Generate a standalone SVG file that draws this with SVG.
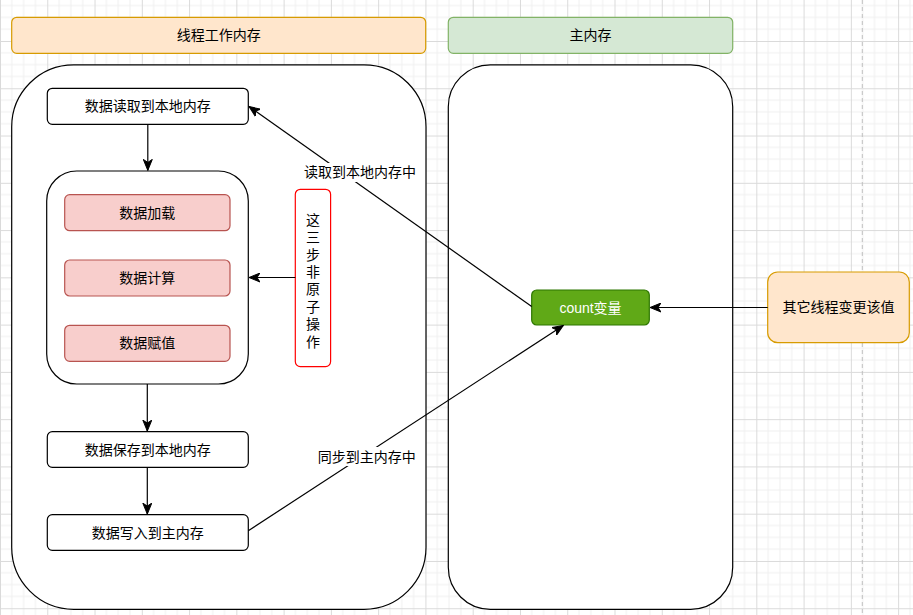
<svg xmlns="http://www.w3.org/2000/svg" width="913" height="615" viewBox="0 0 913 615">
<style>
text{font-family:"Liberation Sans","Noto Sans CJK SC",sans-serif;font-size:14px;fill:#000;text-anchor:middle;dominant-baseline:central}
.panel{fill:#fff;stroke:#000;stroke-width:1.2}
.box{fill:#fff;stroke:#000;stroke-width:1.2}
.red{fill:#f8cecc;stroke:#b85450;stroke-width:1.2}
.orange{fill:#ffe6cc;stroke:#d79b00;stroke-width:1.2}
.green{fill:#d5e8d4;stroke:#82b366;stroke-width:1.2}
.edge{fill:none;stroke:#000;stroke-width:1.2}
</style>
<defs>
<pattern id="grid" x="0" y="41" width="47.27" height="47.27" patternUnits="userSpaceOnUse">
<path d="M11.82 0V47.27M23.64 0V47.27M35.45 0V47.27M0 11.82H47.27M0 23.64H47.27M0 35.45H47.27" stroke="#f0f0f0" stroke-width="1" fill="none"/>
<path d="M0.5 0V47.27M0 0.5H47.27" stroke="#dadada" stroke-width="1" fill="none"/>
</pattern>
<marker id="arr" markerWidth="12" markerHeight="10" refX="11" refY="5" orient="auto" markerUnits="userSpaceOnUse">
<path d="M0,0.5 L11,5 L0,9.5 L3,5 Z" fill="#000" stroke="#000" stroke-width="1"/>
</marker>
</defs>
<rect width="913" height="615" fill="#fff"/>
<rect width="913" height="615" fill="url(#grid)"/>
<line x1="862.3" y1="0" x2="862.3" y2="615" stroke="#c0c0c0" stroke-width="1" stroke-dasharray="4 3"/>

<g id="header-thread">
<rect class="orange" x="11.7" y="17.3" width="414" height="36" rx="5"/>
<text x="218.7" y="35.3">线程工作内存</text>
</g>
<g id="header-main">
<rect class="green" x="448.3" y="17.3" width="284.4" height="36" rx="5"/>
<text x="590.5" y="35.3">主内存</text>
</g>
<g id="panel-thread">
<rect class="panel" x="11.7" y="64.8" width="414.3" height="544.5" rx="62"/>
</g>
<g id="panel-main">
<rect class="panel" x="448.3" y="64.8" width="284.4" height="544.5" rx="42"/>
</g>
<g id="node-read">
<rect class="box" x="47.3" y="88.3" width="201" height="36" rx="5"/>
<text x="147.8" y="106.3">数据读取到本地内存</text>
</g>
<g id="node-group">
<rect class="box" x="46.7" y="171" width="201.6" height="213" rx="30"/>
</g>
<g id="node-load">
<rect class="red" x="64.7" y="194.7" width="165.3" height="36" rx="5"/>
<text x="147.3" y="212.7">数据加载</text>
</g>
<g id="node-compute">
<rect class="red" x="64.7" y="260" width="165.3" height="36" rx="5"/>
<text x="147.3" y="278">数据计算</text>
</g>
<g id="node-assign">
<rect class="red" x="64.7" y="325.3" width="165.3" height="36" rx="5"/>
<text x="147.3" y="343.3">数据赋值</text>
</g>
<g id="node-nonatomic">
<rect x="295.3" y="189.3" width="35.3" height="177.3" rx="5" fill="#fff" stroke="#ff0000" stroke-width="1.2"/>
<text x="313" y="219.8"><tspan x="313" dy="0">这</tspan><tspan x="313" dy="17.4">三</tspan><tspan x="313" dy="17.4">步</tspan><tspan x="313" dy="17.4">非</tspan><tspan x="313" dy="17.4">原</tspan><tspan x="313" dy="17.4">子</tspan><tspan x="313" dy="17.4">操</tspan><tspan x="313" dy="17.4">作</tspan></text>
</g>
<g id="node-save">
<rect class="box" x="47.3" y="431.7" width="201" height="35.6" rx="5"/>
<text x="147.8" y="449.5">数据保存到本地内存</text>
</g>
<g id="node-write">
<rect class="box" x="47.3" y="514.7" width="201" height="35.6" rx="5"/>
<text x="147.8" y="532.5">数据写入到主内存</text>
</g>
<g id="node-count">
<rect x="531.7" y="290" width="117.6" height="35" rx="5" fill="#60a917" stroke="#2d7600" stroke-width="1.2"/>
<text x="590.5" y="307.5" style="fill:#fff">count变量</text>
</g>
<g id="node-other">
<rect class="orange" x="767.7" y="272" width="141.6" height="70.7" rx="10"/>
<text x="838.5" y="307.3">其它线程变更该值</text>
</g>

<g id="connectors">
<line class="edge" x1="147.8" y1="124.3" x2="147.8" y2="170.4" marker-end="url(#arr)"/>
<line class="edge" x1="295.3" y1="277.5" x2="249" y2="277.5" marker-end="url(#arr)"/>
<line class="edge" x1="147.3" y1="384" x2="147.3" y2="431.1" marker-end="url(#arr)"/>
<line class="edge" x1="147.3" y1="467.3" x2="147.3" y2="514.1" marker-end="url(#arr)"/>
<line class="edge" x1="767.7" y1="307.5" x2="650" y2="307.5" marker-end="url(#arr)"/>
<line class="edge" x1="531.7" y1="306.5" x2="249" y2="106.5" marker-end="url(#arr)"/>
<line class="edge" x1="248.3" y1="530.7" x2="563.3" y2="325.4" marker-end="url(#arr)"/>
<rect x="303" y="163" width="114" height="19" fill="#fff"/>
<text x="360" y="172.3">读取到本地内存中</text>
<rect x="316" y="447" width="101" height="19" fill="#fff"/>
<text x="366.7" y="456.7">同步到主内存中</text>
</g>
</svg>
